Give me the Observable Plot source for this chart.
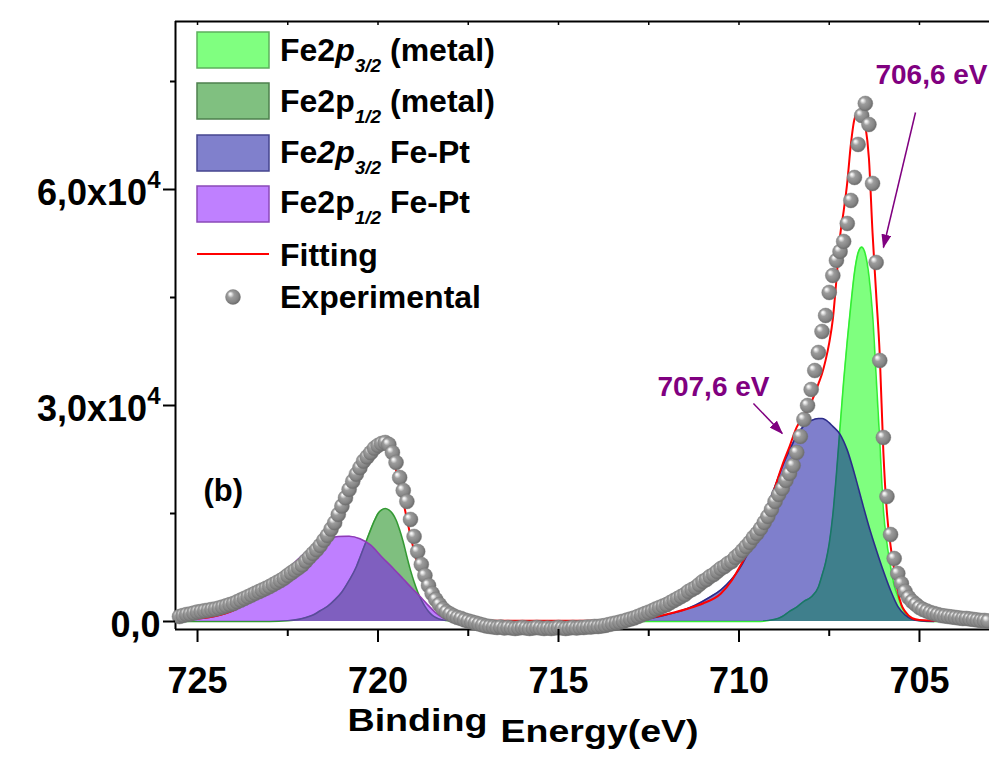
<!DOCTYPE html>
<html><head><meta charset="utf-8">
<script src="https://cdn.jsdelivr.net/npm/d3@7"></script>
<script src="https://cdn.jsdelivr.net/npm/@observablehq/plot@0.6"></script>
<style>
html,body{margin:0;padding:0;background:#fff;overflow:hidden}
#chart{width:989px;height:757px}
</style></head><body><div id="chart"></div>
<script>
// ---------- data ----------
const bindingEnergy = [
725.5,725.4,725.3,725.2,725.1,725.0,724.9,724.8,724.7,724.6,
724.5,724.4,724.3,724.2,724.1,724.0,723.9,723.8,723.7,723.6,
723.5,723.4,723.3,723.2,723.1,723.0,722.9,722.8,722.7,722.6,
722.5,722.4,722.3,722.2,722.1,722.0,721.9,721.8,721.7,721.6,
721.5,721.4,721.3,721.2,721.1,721.0,720.9,720.8,720.7,720.6,
720.5,720.4,720.3,720.2,720.1,720.0,719.9,719.8,719.7,719.6,
719.5,719.4,719.3,719.2,719.1,719.0,718.9,718.8,718.7,718.6,
718.5,718.4,718.3,718.2,718.1,718.0,717.9,717.8,717.7,717.6,
717.5,717.4,717.3,717.2,717.1,717.0,716.9,716.8,716.7,716.6,
716.5,716.4,716.3,716.2,716.1,716.0,715.9,715.8,715.7,715.6,
715.5,715.4,715.3,715.2,715.1,715.0,714.9,714.8,714.7,714.6,
714.5,714.4,714.3,714.2,714.1,714.0,713.9,713.8,713.7,713.6,
713.5,713.4,713.3,713.2,713.1,713.0,712.9,712.8,712.7,712.6,
712.5,712.4,712.3,712.2,712.1,712.0,711.9,711.8,711.7,711.6,
711.5,711.4,711.3,711.2,711.1,711.0,710.9,710.8,710.7,710.6,
710.5,710.4,710.3,710.2,710.1,710.0,709.9,709.8,709.7,709.6,
709.5,709.4,709.3,709.2,709.1,709.0,708.9,708.8,708.7,708.6,
708.5,708.4,708.3,708.2,708.1,708.0,707.9,707.8,707.7,707.6,
707.5,707.4,707.3,707.2,707.1,707.0,706.9,706.8,706.7,706.6,
706.5,706.4,706.3,706.2,706.1,706.0,705.9,705.8,705.7,705.6,
705.5,705.4,705.3,705.2,705.1,705.0,704.9,704.8,704.7,704.6,
704.5,704.4,704.3,704.2,704.1,704.0,703.9,703.8,703.7,703.6,
703.5,703.4,703.3,703.2,703.1];
const intensity = [
690,830,970,1040,1180,1320,1390,1490,1570,1670,
1750,1880,2030,2180,2350,2500,2740,2970,3210,3440,
3680,3920,4150,4390,4610,4860,5140,5420,5690,6010,
6400,6760,7110,7460,7850,8390,8920,9450,9960,10560,
11280,11950,12830,13720,14860,16030,17180,18330,19470,20460,
21360,22270,22860,23450,24060,24450,24720,24860,24590,23470,
22090,20000,18200,16670,14170,11810,9720,7920,6390,5000,
3890,3060,2360,1740,1320,1040,760,560,420,210,
70,-70,-210,-350,-490,-630,-700,-760,-830,-760,
-900,-830,-900,-970,-900,-830,-900,-970,-900,-830,
-900,-970,-900,-970,-900,-830,-900,-970,-900,-830,
-900,-830,-830,-760,-760,-690,-690,-620,-540,-420,
-300,-200,-80,50,200,350,500,700,900,1100,
1300,1500,1750,1950,2150,2350,2640,2920,3190,3470,
3750,4170,4440,4720,5140,5560,5830,6250,6530,6950,
7360,7640,8060,8330,8890,9310,9860,10420,10970,11670,
12220,12920,13750,14580,15560,16670,17640,18470,19580,20560,
21670,23470,25700,28060,30000,32220,34860,37360,40280,42500,
45700,48060,50140,51390,52780,55280,58480,61670,66260,70280,
71950,69030,60840,49870,36250,25560,17360,12080,8750,6670,
5280,4170,3330,2780,2360,1940,1670,1460,1250,1110,
970,830,760,690,630,560,490,420,420,350,
280,210,140,140,70];

// Fe2p3/2 (metal)
const metal32BE = [714.5,709.5,709.0,708.8,708.6,708.4,708.2,708.0,707.8,707.7,707.6,707.5,707.4,707.3,707.2,707.1,707.0,706.9,706.8,706.7,706.6,706.5,706.4,706.3,706.2,706.1,706.0,705.9,705.8,705.7,705.6,705.5,705.4,705.3,705.1,704.8,704.5];
const metal32 = [0,0,300,700,1400,2000,2800,3400,4800,6400,8200,10800,14800,20500,27000,33400,39000,44000,48500,51200,52000,51000,48000,42700,34000,25000,15500,10800,7600,5000,3500,2200,1200,600,200,0,0];
// Fe2p1/2 (metal)
const metal12BE = [725.5,723.0,722.5,722.2,722.0,721.8,721.6,721.4,721.2,721.0,720.8,720.6,720.5,720.4,720.3,720.2,720.1,720.0,719.9,719.8,719.7,719.6,719.5,719.4,719.3,719.2,719.1,719.0,718.9,718.8,718.7,718.6,718.5,718.4,718.2,717.8];
const metal12 = [0,0,100,300,550,900,1500,2100,3000,4100,5700,7600,8900,10200,11500,12800,14000,15000,15500,15700,15500,15000,14100,12700,11000,9000,7100,5500,4100,3000,2100,1400,900,550,200,0];
// Fe2p3/2 Fe-Pt
const fePt32BE = [714.4,713.0,712.8,712.4,712.0,711.6,711.2,710.8,710.5,710.2,710.0,709.8,709.6,709.4,709.2,709.0,708.8,708.6,708.4,708.2,708.0,707.8,707.7,707.6,707.4,707.2,707.0,706.8,706.6,706.4,706.2,706.0,705.8,705.6,705.4,705.2,705.0,704.6];
const fePt32 = [0,0,140,500,950,1500,2300,3400,4400,5900,7200,9000,11200,13600,16200,18800,21500,23800,25800,27200,27900,28200,28200,28000,27100,26000,23800,20500,16800,13200,10000,7000,4300,2100,900,300,100,0];
// Fe2p1/2 Fe-Pt
const fePt12BE = [725.5,725.0,724.5,724.0,723.5,723.0,722.6,722.2,721.8,721.4,721.1,720.8,720.5,720.2,719.9,719.6,719.3,719.0,718.8,718.6,718.4,718.2,718.0,717.6];
const fePt12 = [200,380,750,1530,3000,5000,6750,8700,10400,11400,11800,11850,11500,10600,9000,7500,5900,4300,3300,2200,1200,500,150,0];
// Fitting envelope
const fittingBE = [725.5,725.0,724.5,724.0,723.5,723.0,722.6,722.2,722.0,721.8,721.6,721.4,721.2,721.0,720.8,720.6,720.4,720.2,720.0,719.9,719.8,719.7,719.6,719.5,719.4,719.3,719.2,719.1,719.0,718.9,718.8,718.7,718.6,718.5,718.4,718.2,718.0,717.6,713.3,712.8,712.4,711.8,711.4,711.0,710.5,710.2,709.9,709.7,709.4,709.2,709.0,708.8,708.6,708.4,708.2,708.0,707.8,707.7,707.6,707.5,707.4,707.3,707.2,707.1,707.0,706.9,706.8,706.7,706.6,706.5,706.4,706.3,706.2,706.1,706.0,705.9,705.8,705.7,705.6,705.5,705.4,705.2,705.0,704.5,703.06];
const fitting = [200,400,750,1550,3050,5000,6600,8500,9300,10400,11500,12600,14000,15600,17400,19200,21700,23400,24600,24700,24600,24000,22500,21000,19000,16700,14200,11900,9800,7900,6300,4900,3600,2600,1750,700,250,100,100,150,550,1250,1800,2500,3900,5700,8300,10100,13100,15500,18700,21700,24300,27000,28500,30400,33000,34400,36300,38700,42000,47500,53500,57000,61000,66300,69800,70700,70600,68900,64300,54000,45500,37000,23500,15000,10500,7200,4200,2300,1400,450,200,100,100];

const xMajorTicks = [725, 720, 715, 710, 705];
const xMinorTicks = [722.5, 717.5, 712.5, 707.5];
const xTopTicks = [725, 722.5, 720, 717.5, 715, 712.5, 710, 707.5, 705];
const yMajorTicks = [0, 30000, 60000];
const yMinorTicks = [15000, 45000, 75000];

const annotations = [
  {label: "706,6 eV", tx: 706.22, ty: 74590, x1: 705.11, y1: 70700, x2: 706.0, y2: 51950},
  {label: "707,6 eV", tx: 712.26, ty: 31250, x1: 709.6, y1: 30280, x2: 708.8, y2: 26110}
];

const legendLabels = [
  [{t: "Fe2"}, {t: "p", italic: true}, {t: "3/2", sub: true}, {t: " (metal)"}],
  [{t: "Fe2p"}, {t: "1/2", sub: true}, {t: " (metal)"}],
  [{t: "Fe"}, {t: "2p", italic: true}, {t: "3/2", sub: true}, {t: " Fe-Pt"}],
  [{t: "Fe2p"}, {t: "1/2", sub: true}, {t: " Fe-Pt"}]
];

// ---------- chart ----------
const FONT = '"Liberation Sans", Arial, Helvetica, sans-serif';
const X_DOMAIN = [725.61, 703.06];
const Y_DOMAIN = [-1111, 83333];
const zip = (xs, ys) => xs.map((x, i) => ({x, y: ys[i]}));

const components = [
  {data: zip(metal32BE, metal32), fill: "#00ff00", stroke: "#33ee33", swFill: "#80ff80", swStroke: "#5cb05c"},
  {data: zip(metal12BE, metal12), fill: "#008000", stroke: "#339933", swFill: "#80c080", swStroke: "#4d804d"},
  {data: zip(fePt32BE, fePt32), fill: "#000099", stroke: "#2b2b8a", swFill: "#8080cc", swStroke: "#45458f"},
  {data: zip(fePt12BE, fePt12), fill: "#8000ff", stroke: "#8e3bb5", swFill: "#bf80ff", swStroke: "#8a4ab8"}
];
const experimental = zip(bindingEnergy, intensity);
const fit = zip(fittingBE, fitting);

const compMarks = components.flatMap(c => [
  Plot.areaY(c.data, {x: "x", y: "y", fill: c.fill, fillOpacity: 0.5, curve: "monotone-x"}),
  Plot.lineY(c.data, {x: "x", y: "y", stroke: c.stroke, strokeWidth: 1.6, curve: "monotone-x"})
]);

const fmtY = d => d === 0 ? "0,0" : `${(d / 1e4).toFixed(1).replace(".", ",")}x10`;

const plot = Plot.plot({
  width: 989, height: 757,
  marginLeft: 175, marginRight: 0, marginTop: 21, marginBottom: 128,
  x: {domain: X_DOMAIN, label: null},
  y: {domain: Y_DOMAIN, label: null},
  style: {fontFamily: FONT, fontWeight: "bold", background: "white", color: "black"},
  marks: [
    Plot.ruleY([Y_DOMAIN[1]], {strokeWidth: 2}),
    Plot.ruleY([Y_DOMAIN[0]], {strokeWidth: 2}),
    Plot.ruleX([X_DOMAIN[0]], {strokeWidth: 2}),
    ...compMarks,
    Plot.lineY(fit, {x: "x", y: "y", stroke: "#ff0000", strokeWidth: 2, curve: "monotone-x"}),
    Plot.dot(experimental, {x: "x", y: "y", r: 7.5, fill: "url(#sphere)", stroke: "#777777", strokeWidth: 0.4}),
    Plot.axisX({ticks: xMajorTicks, tickSize: 13, tickPadding: 25, strokeWidth: 2, tickFormat: d => `${d}`, fontSize: 36, label: null}),
    Plot.axisX({ticks: xMinorTicks, tickSize: 7, strokeWidth: 2, tickFormat: () => "", label: null}),
    Plot.axisX({anchor: "top", ticks: xTopTicks, tickSize: -3, strokeWidth: 1.5, tickFormat: () => "", label: null}),
    Plot.axisY({ticks: yMajorTicks, tickSize: 12, strokeWidth: 2, tickFormat: () => "", label: null}),
    Plot.axisY({ticks: yMinorTicks, tickSize: 5, strokeWidth: 2, tickFormat: () => "", label: null}),
    Plot.axisY({ticks: yMajorTicks, tickSize: 0, tickPadding: 15, dy: 3.5, tickFormat: fmtY, fontSize: 36, label: null}),
    Plot.link(annotations, {x1: "x1", y1: "y1", x2: "x2", y2: "y2", stroke: "#800080", strokeWidth: 1.5}),
    Plot.text(annotations, {x: "tx", y: "ty", text: "label", textAnchor: "start", lineAnchor: "bottom", fill: "#800080", fontSize: 28, fontWeight: "bold"}),
    Plot.text(["(b)"], {text: d => d, frameAnchor: "top-left", dx: 28, dy: 479, textAnchor: "start", lineAnchor: "bottom", fontSize: 31, fontWeight: "bold"}),
    Plot.text(["Binding"], {text: d => d, frameAnchor: "bottom-left", dx: 172, dy: 101, textAnchor: "start", lineAnchor: "bottom", fontSize: 32, fontWeight: "bold"}),
    Plot.text(["Energy(eV)"], {text: d => d, frameAnchor: "bottom-left", dx: 325, dy: 112, textAnchor: "start", lineAnchor: "bottom", fontSize: 32, fontWeight: "bold"})
  ]
});

document.getElementById("chart").appendChild(plot);
const svg = d3.select(plot);

// defs: sphere gradient + arrow head
const defs = svg.insert("defs", ":first-child");
const grad = defs.append("radialGradient").attr("id", "sphere")
  .attr("cx", "45%").attr("cy", "45%").attr("r", "58%").attr("fx", "30%").attr("fy", "28%");
[["0%", "#ffffff"], ["14%", "#e6e6e6"], ["38%", "#9c9c9c"], ["75%", "#858585"], ["100%", "#666666"]]
  .forEach(([o, c]) => grad.append("stop").attr("offset", o).attr("stop-color", c));
const mk = defs.append("marker").attr("id", "ahead").attr("viewBox", "0 -5 14 10")
  .attr("refX", 13).attr("refY", 0).attr("markerWidth", 14).attr("markerHeight", 10)
  .attr("markerUnits", "userSpaceOnUse").attr("orient", "auto");
mk.append("path").attr("d", "M0,-5L14,0L0,5Z").attr("fill", "#800080");
svg.selectAll('g[aria-label="link"] path').attr("marker-end", "url(#ahead)");

// superscripts on y tick labels, stretched axis title
svg.selectAll("text").each(function () {
  const t = this.textContent;
  if (/x10$/.test(t)) {
    d3.select(this).append("tspan").attr("font-size", 24).attr("dy", -17).text("4");
  } else if (t === "Binding") {
    d3.select(this).attr("textLength", 140).attr("lengthAdjust", "spacingAndGlyphs");
  } else if (t === "Energy(eV)") {
    d3.select(this).attr("textLength", 198).attr("lengthAdjust", "spacingAndGlyphs");
  }
});

// legend
const lg = svg.append("g").attr("font-family", FONT).attr("font-weight", "bold")
  .attr("font-size", 32).attr("fill", "black").attr("text-anchor", "start").style("white-space", "pre");
const rowTops = [32, 83, 135, 186];
const rowBase = [61, 112, 163, 213];
components.forEach((c, i) => {
  lg.append("rect").attr("x", 197).attr("y", rowTops[i]).attr("width", 72).attr("height", 36)
    .attr("fill", c.swFill).attr("stroke", c.swStroke).attr("stroke-width", 1.5);
  const tx = lg.append("text").attr("x", 280).attr("y", rowBase[i]).attr("text-anchor", "start");
  let shift = 0;
  legendLabels[i].forEach(p => {
    const target = p.sub ? 11 : 0;
    const ts = tx.append("tspan").attr("dy", target - shift).text(p.t);
    shift = target;
    if (p.italic) ts.attr("font-style", "italic");
    if (p.sub) ts.attr("font-size", 19).attr("font-style", "italic");
  });
});
lg.append("line").attr("x1", 197).attr("x2", 269).attr("y1", 254).attr("y2", 254)
  .attr("stroke", "#ff0000").attr("stroke-width", 2);
lg.append("text").attr("x", 280).attr("y", 266).attr("text-anchor", "start").text("Fitting");
lg.append("circle").attr("cx", 233).attr("cy", 297).attr("r", 7.5).attr("fill", "url(#sphere)")
  .attr("stroke", "#777777").attr("stroke-width", 0.4);
lg.append("text").attr("x", 280).attr("y", 308).attr("text-anchor", "start").text("Experimental");
</script>
</body></html>
